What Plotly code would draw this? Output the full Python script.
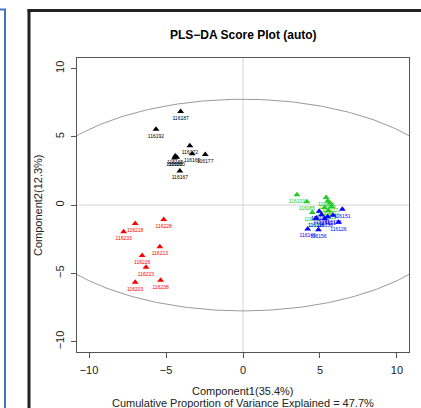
import numpy as np
import plotly.graph_objects as go

# ---- data ----
black_labels = ["116187", "116192", "116172", "116169", "116177", "116165", "116160", "116182", "116167"]
black_x = [-4.05, -5.65, -3.45, -3.30, -2.45, -4.40, -4.30, -4.45, -4.10]
black_y = [6.85, 5.55, 4.35, 3.75, 3.70, 3.60, 3.50, 3.45, 2.50]

red_labels = ["116218", "116228", "116233", "116213", "116226", "116223", "116203", "116238"]
red_x = [-7.00, -5.15, -7.75, -5.40, -6.55, -6.30, -7.00, -5.35]
red_y = [-1.35, -1.05, -1.95, -3.05, -3.70, -4.55, -5.65, -5.50]

green_labels = ["116103", "116085", "116094", "116099", "116107", "116112", "116088", "116091", "116097", "116110"]
green_x = [3.50, 4.15, 5.40, 5.50, 5.65, 5.75, 5.30, 4.50, 4.75, 5.55]
green_y = [0.75, 0.25, 0.55, 0.30, 0.15, -0.10, -0.20, -0.55, -1.00, -0.40]

blue_labels = ["116151", "116126", "116146", "116156", "116136", "116131", "116141", "116121", "116116", "116133"]
blue_x = [6.45, 6.20, 4.20, 4.90, 5.30, 4.95, 5.10, 5.50, 4.75, 5.85]
blue_y = [-0.30, -1.25, -1.75, -1.80, -1.00, -0.45, -0.70, -0.85, -0.95, -0.75]

ellipse_a = 14.3   # semi-axis along component 1
ellipse_b = 7.75   # semi-axis along component 2

x_ticks = [-10, -5, 0, 5, 10]
y_ticks = [-10, -5, 0, 5, 10]

title_text = "PLS\u2212DA Score Plot (auto)"
xlab1 = "Component1(35.4%)"
xlab2 = "Cumulative Proportion of Variance Explained = 47.7%"
ylab = "Component2(12.3%)"

FONT = "Liberation Sans, Arial, Helvetica, sans-serif"

fig = go.Figure()

# zero lines
fig.add_trace(go.Scatter(x=[-20, 20], y=[0, 0], mode="lines",
                         line=dict(color="#d3d3d3", width=1), hoverinfo="skip", showlegend=False))
fig.add_trace(go.Scatter(x=[0, 0], y=[-20, 20], mode="lines",
                         line=dict(color="#d3d3d3", width=1), hoverinfo="skip", showlegend=False))

# confidence ellipse
t = np.linspace(0, 2 * np.pi, 400)
fig.add_trace(go.Scatter(x=ellipse_a * np.cos(t), y=ellipse_b * np.sin(t), mode="lines",
                         line=dict(color="#9a9a9a", width=1), hoverinfo="skip", showlegend=False))

groups = [
    (black_x, black_y, black_labels, "#000000"),
    (red_x, red_y, red_labels, "#FF0000"),
    (green_x, green_y, green_labels, "#22CC22"),
    (blue_x, blue_y, blue_labels, "#0000FF"),
]
for gx, gy, gl, col in groups:
    fig.add_trace(go.Scatter(
        x=gx, y=gy, text=gl, mode="markers+text",
        marker=dict(symbol="triangle-up", size=6, color=col),
        textposition="bottom center",
        textfont=dict(family=FONT, size=5, color=col),
        showlegend=False, cliponaxis=False))

L, R, T, B = 77, 12, 58, 56
W, H = 421, 408
pw, ph = W - L - R, H - T - B

def px_x(p):
    return (p - L) / pw

def px_y(p):
    return (H - B - p) / ph

axis_common = dict(showline=True, mirror=True, linecolor="#555555", linewidth=1,
                   ticks="outside", ticklen=5, tickcolor="#555555", showgrid=False,
                   zeroline=False, ticklabelstandoff=3,
                   tickfont=dict(family=FONT, size=11, color="#222222"))

fig.update_layout(
    width=W, height=H,
    margin=dict(l=L, r=R, t=T, b=B),
    paper_bgcolor="white", plot_bgcolor="white",
    xaxis=dict(range=[-10.78, 10.78], tickvals=x_ticks, **axis_common),
    yaxis=dict(range=[-10.76, 10.77], tickvals=y_ticks, tickangle=-90, **axis_common),
    font=dict(family=FONT, color="#222222"),
    annotations=[
        dict(text="<b>" + title_text + "</b>", xref="paper", yref="paper", x=0.5, y=px_y(35),
             showarrow=False, font=dict(family=FONT, size=12, color="#000000"), xanchor="center", yanchor="middle"),
        dict(text=xlab1, xref="paper", yref="paper", x=0.5, y=px_y(391),
             showarrow=False, font=dict(family=FONT, size=11, color="#222222"), xanchor="center", yanchor="middle"),
        dict(text=xlab2, xref="paper", yref="paper", x=0.5, y=px_y(403),
             showarrow=False, font=dict(family=FONT, size=11, color="#222222"), xanchor="center", yanchor="middle"),
        dict(text=ylab, xref="paper", yref="paper", x=px_x(38), y=0.5, textangle=-90,
             showarrow=False, font=dict(family=FONT, size=11, color="#222222"), xanchor="center", yanchor="middle"),
    ],
    shapes=[
        # outer dark frame
        dict(type="line", xref="paper", yref="paper", x0=px_x(29), x1=px_x(29), y0=px_y(9), y1=px_y(420),
             line=dict(color="#222222", width=3)),
        dict(type="line", xref="paper", yref="paper", x0=px_x(27.5), x1=px_x(430), y0=px_y(10.5), y1=px_y(10.5),
             line=dict(color="#222222", width=3)),
        # blue border at far left
        dict(type="line", xref="paper", yref="paper", x0=px_x(5), x1=px_x(5), y0=px_y(9), y1=px_y(420),
             line=dict(color="#4472C4", width=2)),
        dict(type="line", xref="paper", yref="paper", x0=px_x(-5), x1=px_x(6), y0=px_y(9.5), y1=px_y(9.5),
             line=dict(color="#4472C4", width=2)),
    ],
)

fig.write_html("out.html")
